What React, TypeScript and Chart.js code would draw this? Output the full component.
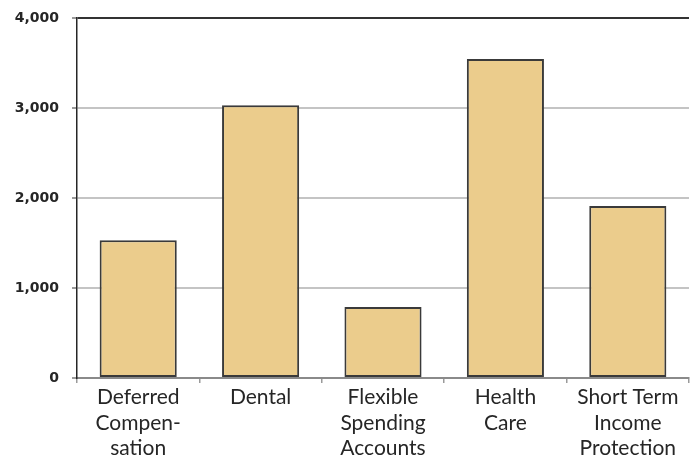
import React, { useEffect, useRef } from "react";
import { Chart, registerables } from "chart.js";

Chart.register(...registerables);

// Enrollment counts per benefit plan
const categories: string[][] = [
  ["Deferred", "Compen-", "sation"],
  ["Dental"],
  ["Flexible", "Spending", "Accounts"],
  ["Health", "Care"],
  ["Short Term", "Income", "Protection"],
];
const enrollment: number[] = [1530, 3030, 790, 3545, 1910];
const yTicks: number[] = [0, 1000, 2000, 3000, 4000];

const BAR_FILL = "#ebcc8c";
const BAR_EDGE = "#3a3a3a";
const GRID = "#c4c4c4";
const INK = "#262626";

export default function App() {
  const canvasRef = useRef<HTMLCanvasElement | null>(null);

  useEffect(() => {
    const canvas = canvasRef.current;
    if (!canvas) return;
    const chart = new Chart(canvas, {
      type: "bar",
      data: {
        labels: categories,
        datasets: [
          {
            data: enrollment,
            backgroundColor: BAR_FILL,
            borderColor: BAR_EDGE,
            borderWidth: 2,
            borderSkipped: false,
            barPercentage: 0.63,
            categoryPercentage: 1,
          },
        ],
      },
      options: {
        animation: false,
        responsive: false,
        maintainAspectRatio: false,
        layout: { padding: { top: 18, right: 5, left: 0, bottom: 0 } },
        plugins: {
          legend: { display: false },
          tooltip: { enabled: false },
          title: { display: false },
        },
        scales: {
          x: {
            offset: true,
            grid: {
              offset: true,
              drawOnChartArea: false,
              drawTicks: true,
              tickLength: 5,
              color: "#9a9a9a",
              lineWidth: 1.5,
            },
            border: { display: true, color: "#8a8a8a", width: 2 },
            ticks: {
              color: INK,
              padding: 2,
              maxRotation: 0,
              autoSkip: false,
              font: { family: "Lato, 'Noto Sans', sans-serif", size: 21, lineHeight: 1.21 },
            },
            afterFit: (scale: any) => {
              scale.height = 78;
            },
          },
          y: {
            min: yTicks[0],
            max: yTicks[yTicks.length - 1],
            afterBuildTicks: (scale: any) => {
              scale.ticks = yTicks.map((v) => ({ value: v }));
            },
            grid: {
              color: (ctx: any) => (ctx.tick && ctx.tick.value === yTicks[yTicks.length - 1] ? "#333333" : GRID),
              lineWidth: 2,
              tickLength: 5,
              tickColor: "#9a9a9a",
            },
            border: { display: true, color: INK, width: 1.5 },
            ticks: {
              color: INK,
              padding: 13,
              font: { family: "'DejaVu Sans', sans-serif", size: 14, weight: "bold" },
              callback: (v: any) => Number(v).toLocaleString("en-US"),
            },
            afterFit: (scale: any) => {
              scale.width = 77;
              // the outer layout padding already leaves room for the top label
              scale.paddingTop = 0;
              scale.paddingBottom = 0;
            },
          },
        },
      },
    });
    return () => chart.destroy();
  }, []);

  return (
    <div style={{ position: "absolute", left: 0, top: 0, width: 694, height: 456, background: "#ffffff" }}>
      <canvas ref={canvasRef} width={694} height={456} style={{ display: "block" }} />
    </div>
  );
}
